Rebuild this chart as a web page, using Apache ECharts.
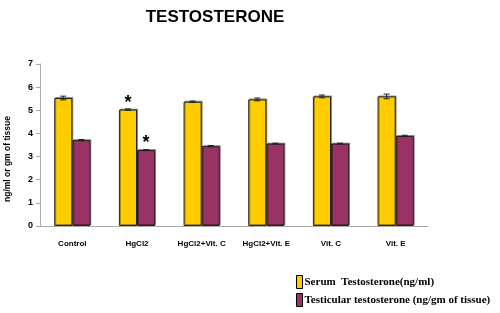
<!DOCTYPE html>
<html>
<head>
<meta charset="utf-8">
<title>Testosterone</title>
<script src="https://cdn.jsdelivr.net/npm/echarts@6/dist/echarts.min.js"></script>
<style>
  html, body { margin: 0; padding: 0; background: #fff; }
  #main { width: 500px; height: 313px; }
</style>
</head>
<body>
<div id="main"></div>
<script>
// values
var groups = ['Control', 'HgCl2', 'HgCl2+Vit. C', 'HgCl2+Vit. E', 'Vit. C', 'Vit. E'];
var serum = [5.53, 5.03, 5.37, 5.47, 5.60, 5.60];
var serumErr = [0.08, 0.03, 0.03, 0.06, 0.06, 0.10];
var testicular = [3.71, 3.28, 3.45, 3.56, 3.56, 3.89];
var testicularErr = [0.03, 0.02, 0.03, 0.02, 0.02, 0.03];
var starred = [false, true, false, false, false, false];
var seriesNames = ['Serum  Testosterone(ng/ml)', 'Testicular testosterone (ng/gm of tissue)'];

function barData(vals) {
    return vals.map(function (v, i) {
        if (starred[i]) {
            return { value: v, label: { show: true, position: 'top', formatter: '*', fontSize: 18, fontWeight: 'bold', color: '#000', distance: -2 } };
        }
        return v;
    });
}

function errData(vals, errs) {
    return vals.map(function (v, i) { return [i, v - errs[i], v + errs[i]]; });
}

// offsetSign: -1 = left bar, 1 = right bar
function errRender(offsetSign) {
    return function (params, api) {
        var x = api.value(0);
        var lo = api.coord([x, api.value(1)]);
        var hi = api.coord([x, api.value(2)]);
        var bw = api.size([1, 0])[0] * 0.28;
        var cx = lo[0] + offsetSign * bw / 2;
        var cap = 3;
        var st = { stroke: '#222', lineWidth: 1 };
        return {
            type: 'group',
            children: [
                { type: 'line', shape: { x1: cx, y1: lo[1], x2: cx, y2: hi[1] }, style: st },
                { type: 'line', shape: { x1: cx - cap, y1: lo[1], x2: cx + cap, y2: lo[1] }, style: st },
                { type: 'line', shape: { x1: cx - cap, y1: hi[1], x2: cx + cap, y2: hi[1] }, style: st }
            ]
        };
    };
}

var legendText = { fontFamily: 'Liberation Serif, Times New Roman', fontSize: 11, fontWeight: 'bold', color: '#000', padding: [0, 0, 0, -3] };

var chart = echarts.init(document.getElementById('main'));
chart.setOption({
    animation: false,
    backgroundColor: '#fff',
    title: {
        text: 'TESTOSTERONE',
        left: 210,
        textAlign: 'center',
        top: 4,
        textStyle: { fontFamily: 'Liberation Sans, Arial', fontSize: 17, fontWeight: 'bold', color: '#000' }
    },
    legend: [
        {
            left: 291, top: 270, itemWidth: 6, itemHeight: 13, icon: 'rect',
            itemStyle: { borderColor: '#000', borderWidth: 1 },
            data: [seriesNames[0]], textStyle: legendText, selectedMode: false
        },
        {
            left: 291, top: 288, itemWidth: 6, itemHeight: 13, icon: 'rect',
            itemStyle: { borderColor: '#000', borderWidth: 1 },
            data: [seriesNames[1]], textStyle: legendText, selectedMode: false
        }
    ],
    grid: { left: 40, right: 72, top: 64, bottom: 87, containLabel: false, outerBoundsMode: 'none' },
    xAxis: {
        type: 'category',
        data: groups,
        axisLine: { lineStyle: { color: '#aaa' } },
        axisTick: { length: 4, lineStyle: { color: '#aaa' } },
        axisLabel: { fontFamily: 'Liberation Sans, Arial', fontSize: 8, fontWeight: 'bold', color: '#000', margin: 14 }
    },
    yAxis: {
        type: 'value',
        min: 0,
        max: 7,
        interval: 1,
        name: 'ng/ml or gm of tissue',
        nameLocation: 'middle',
        nameGap: 28,
        nameTextStyle: { fontFamily: 'Liberation Sans, Arial', fontSize: 8.5, fontWeight: 'bold', color: '#000', padding: [0, 28, 0, 0] },
        axisLine: { show: true, lineStyle: { color: '#aaa' } },
        axisTick: { show: true, length: 4, lineStyle: { color: '#aaa' } },
        splitLine: { show: false },
        axisLabel: { fontFamily: 'Liberation Sans, Arial', fontSize: 9, fontWeight: 'bold', color: '#000', margin: 7 }
    },
    series: [
        {
            name: seriesNames[0],
            type: 'bar',
            barWidth: '28%',
            barGap: '0%',
            itemStyle: { color: '#FFCC00', borderColor: '#222', borderWidth: 1, shadowColor: 'rgba(0,0,0,0.35)', shadowOffsetX: 1, shadowOffsetY: -1 },
            data: barData(serum)
        },
        {
            name: seriesNames[1],
            type: 'bar',
            barWidth: '28%',
            barGap: '0%',
            itemStyle: { color: '#993366', borderColor: '#222', borderWidth: 1, shadowColor: 'rgba(0,0,0,0.35)', shadowOffsetX: 1, shadowOffsetY: -1 },
            data: barData(testicular)
        },
        {
            type: 'custom',
            renderItem: errRender(-1),
            data: errData(serum, serumErr),
            z: 10,
            silent: true
        },
        {
            type: 'custom',
            renderItem: errRender(1),
            data: errData(testicular, testicularErr),
            z: 10,
            silent: true
        }
    ]
});
</script>
</body>
</html>
